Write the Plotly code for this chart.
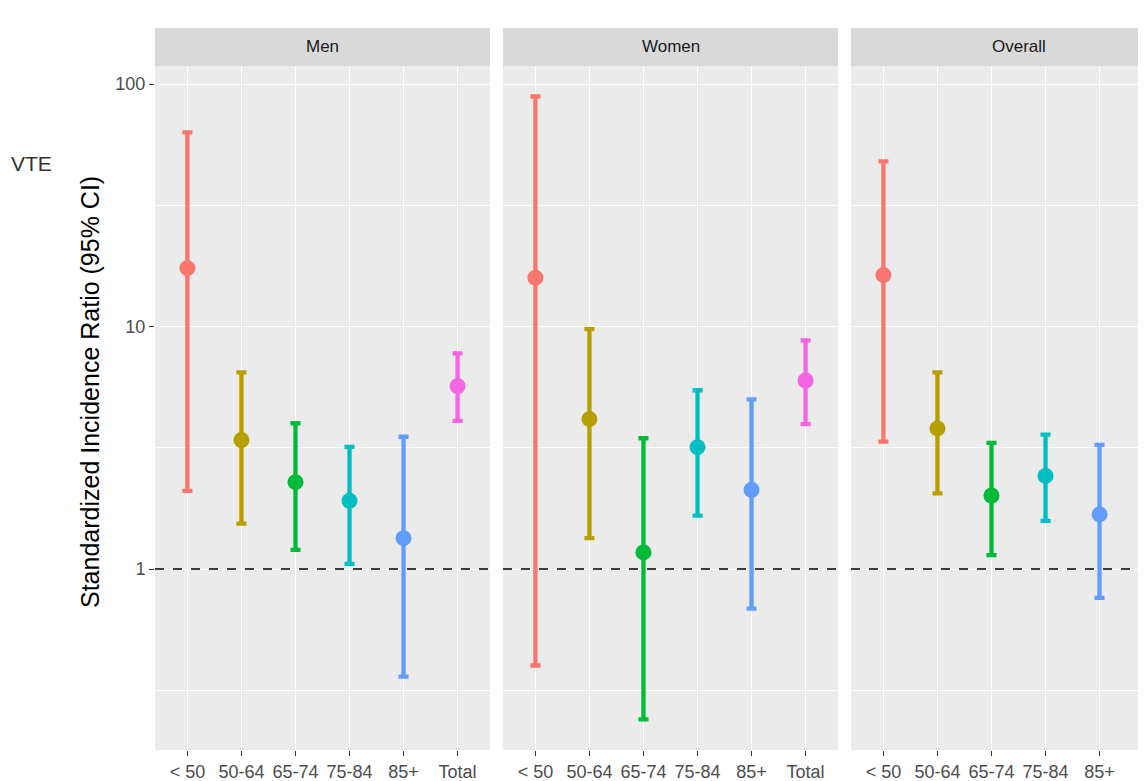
import plotly.graph_objects as go

# ---------------- data ----------------
age_groups = ["< 50", "50-64", "65-74", "75-84", "85+", "Total"]
panels = ["Men", "Women", "Overall"]
colors = ["#F8766D", "#B79F00", "#00BA38", "#00BFC4", "#619CFF", "#F564E3"]

men_sir = [17.4, 3.40, 2.28, 1.91, 1.34, 5.68]
men_lower = [2.10, 1.54, 1.20, 1.05, 0.36, 4.08]
men_upper = [63.2, 6.47, 3.99, 3.19, 3.51, 7.75]

women_sir = [15.9, 4.15, 1.17, 3.18, 2.12, 5.99]
women_lower = [0.40, 1.34, 0.24, 1.66, 0.686, 3.96]
women_upper = [88.8, 9.75, 3.46, 5.46, 5.01, 8.77]

overall_sir = [16.3, 3.80, 2.01, 2.42, 1.68, 5.85]
overall_lower = [3.35, 2.05, 1.14, 1.58, 0.76, 4.6]
overall_upper = [48.0, 6.47, 3.31, 3.58, 3.25, 7.4]

y_ticks = [1, 10, 100]
y_minor = [0.316, 3.16, 31.6]
reference_line = 1

panel_data = {
    "Men": (men_sir, men_lower, men_upper),
    "Women": (women_sir, women_lower, women_upper),
    "Overall": (overall_sir, overall_lower, overall_upper),
}

# ---------------- layout geometry (page pixels) ----------------
OFF = 8                      # default body margin of the page
PAGE_W, PAGE_H = 1146, 781
W, H = PAGE_W - OFF, PAGE_H - OFF
ML, MR, MT, MB = 155 - OFF, 0, 28 - OFF, PAGE_H - 750
PW = W - ML - MR
PH = H - MT - MB
panel_px = [(155, 490), (503, 838), (851, 1186)]
panel_top_px, panel_bottom_px = 66, 750
strip_top_px = 28
unit = (490 - 155) / 6.2


def px_x(p):
    return (p - OFF - ML) / PW


def px_y(p):
    return (H - MB - (p - OFF)) / PH


fig = go.Figure()
FONT = "Liberation Sans, Arial, Helvetica, sans-serif"

for k, name in enumerate(panels):
    sir, lo, up = panel_data[name]
    xa = "x" if k == 0 else f"x{k+1}"
    ya = "y" if k == 0 else f"y{k+1}"
    for i, g in enumerate(age_groups):
        fig.add_trace(go.Scatter(
            x=[g], y=[sir[i]], mode="markers",
            marker=dict(color=colors[i], size=16),
            error_y=dict(type="data", symmetric=False,
                         array=[up[i] - sir[i]], arrayminus=[sir[i] - lo[i]],
                         color=colors[i], thickness=4.3, width=5),
            xaxis=xa, yaxis=ya, showlegend=False, hoverinfo="skip"))

y_range = [(569 - panel_bottom_px) / 242.5, (569 - panel_top_px) / 242.5]

for k, name in enumerate(panels):
    left, right = panel_px[k]
    right_clip = min(right, PAGE_W)
    d0, d1 = px_x(left), min(px_x(right_clip), 1.0)
    x_end = -0.6 + (right_clip - left) / unit
    suffix = "" if k == 0 else str(k + 1)
    fig.update_layout(**{
        f"xaxis{suffix}": dict(
            domain=[d0, d1], type="category", categoryorder="array",
            categoryarray=age_groups, range=[-0.6, x_end],
            showgrid=True, gridcolor="white", gridwidth=1.2,
            ticks="outside", ticklen=5, tickwidth=1.3, tickcolor="#333333",
            tickfont=dict(family=FONT, size=18, color="#4D4D4D"),
            zeroline=False, showline=False, anchor="y" + suffix, fixedrange=True),
        f"yaxis{suffix}": dict(
            domain=[0, px_y(panel_top_px)], type="log", range=y_range,
            tickvals=y_ticks, ticktext=[str(v) for v in y_ticks],
            showgrid=True, gridcolor="white", gridwidth=1.2,
            minor=dict(tickvals=y_minor, showgrid=True, gridcolor="white",
                       gridwidth=0.6, ticks=""),
            ticks="outside" if k == 0 else "", ticklen=5, tickwidth=1.3,
            tickcolor="#333333", showticklabels=(k == 0),
            tickfont=dict(family=FONT, size=18, color="#4D4D4D"),
            zeroline=False, showline=False, anchor="x" + suffix, fixedrange=True),
    })
    # panel background
    fig.add_shape(type="rect", xref="paper", yref="paper", layer="below",
                  x0=d0, x1=d1, y0=0, y1=px_y(panel_top_px),
                  fillcolor="#EBEBEB", line=dict(width=0))
    # strip
    fig.add_shape(type="rect", xref="paper", yref="paper",
                  x0=d0, x1=d1, y0=px_y(panel_top_px), y1=px_y(strip_top_px),
                  fillcolor="#D9D9D9", line=dict(width=0))
    fig.add_annotation(xref="paper", yref="paper",
                       x=px_x((left + right) / 2), y=px_y((strip_top_px + panel_top_px) / 2),
                       text=name, showarrow=False, xanchor="center", yanchor="middle",
                       font=dict(family=FONT, size=17, color="#1A1A1A"))
    # dashed reference line
    fig.add_shape(type="line", xref=f"x{suffix} domain", yref=f"y{suffix}",
                  x0=0, x1=1, y0=reference_line, y1=reference_line,
                  line=dict(color="black", width=1.6, dash="dash"))

# y-axis title
fig.add_annotation(xref="paper", yref="paper", x=px_x(90), y=px_y(392),
                   text="Standardized Incidence Ratio (95% CI)", textangle=-90,
                   showarrow=False, xanchor="center", yanchor="middle",
                   font=dict(family=FONT, size=25, color="black"))
# left label (cut off in the reference)
fig.add_annotation(xref="paper", yref="paper", x=px_x(9), y=px_y(163),
                   text="VTE", showarrow=False, xanchor="left", yanchor="middle",
                   font=dict(family=FONT, size=21, color="#333333"))

fig.update_layout(width=W, height=H, margin=dict(l=ML, r=MR, t=MT, b=MB),
                  paper_bgcolor="white", plot_bgcolor="rgba(0,0,0,0)",
                  showlegend=False)

fig.write_html("out.html")
